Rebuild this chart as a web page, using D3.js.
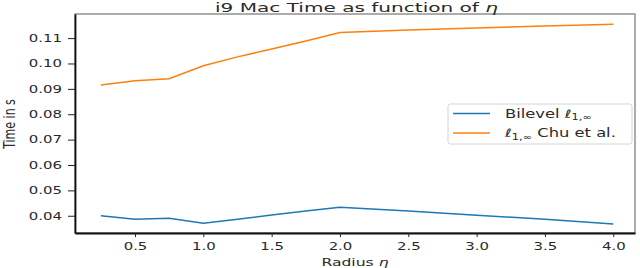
<!DOCTYPE html>
<html><head><meta charset="utf-8">
<script src="https://cdn.jsdelivr.net/npm/d3@7"></script>
<style>
html,body{margin:0;padding:0;background:#fff;}
svg{display:block;font-family:"DejaVu Sans",sans-serif;}
</style></head>
<body>
<svg id="c" width="640" height="268"></svg>
<script>
const radius = [0.25,0.5,0.75,1.0,1.25,1.5,1.75,2.0,2.5,3.0,3.5,4.0];
const bilevel = [0.0400,0.0386,0.0390,0.0370,0.0386,0.0403,0.0419,0.0433,0.0419,0.0402,0.0386,0.0367];
const chu = [0.0915,0.0932,0.0940,0.0991,0.1026,0.1057,0.1089,0.1122,0.1132,0.1140,0.1148,0.1155];
const xTicks = [0.5,1.0,1.5,2.0,2.5,3.0,3.5,4.0];
const yTicks = [0.04,0.05,0.06,0.07,0.08,0.09,0.10,0.11];
const seriesNames = ["Bilevel", "Chu et al."];
const colors = ["#1f77b4", "#ff7f0e"];

const S = 1.42; // horizontal stretch of the picture
const L = 75, R = 635, T = 14, B = 233;
const svg = d3.select("#c");
const x = d3.scaleLinear().domain([0.061, 4.159]).range([L, R]);
const y = d3.scaleLinear().domain([0.0332, 0.1195]).range([B, T]);

// frame (top/right spines)
svg.append("rect").attr("x", L).attr("y", T).attr("width", R - L).attr("height", B - T)
  .attr("fill", "none").attr("stroke", "#808080").attr("stroke-width", 1.3);

const gy = svg.append("g").attr("transform", `translate(${L},0)`)
  .call(d3.axisLeft(y).tickValues(yTicks).tickFormat(d3.format(".2f")).tickSize(7).tickSizeOuter(0).tickPadding(6));
const gx = svg.append("g").attr("transform", `translate(0,${B})`)
  .call(d3.axisBottom(x).tickValues(xTicks).tickFormat(d3.format(".1f")).tickSize(4).tickSizeOuter(0).tickPadding(5.5));

[gx, gy].forEach(g => {
  g.select(".domain").attr("stroke", "#111").attr("stroke-width", 1.8);
  g.selectAll(".tick line").attr("stroke", "#222").attr("stroke-width", 1);
  g.selectAll(".tick text").attr("fill", "#2a2a2a").attr("font-size", 10.5)
    .attr("font-family", "DejaVu Sans")
    .each(function() {
      const t = d3.select(this);
      const xx = +t.attr("x") || 0;
      t.attr("x", xx / S).attr("transform", `scale(${S},1)`);
    });
});

// lines
const line = d3.line().x((d, i) => x(radius[i])).y(d => y(d));
[bilevel, chu].forEach((data, k) => {
  svg.append("path").datum(data).attr("d", line)
    .attr("fill", "none").attr("stroke", colors[k]).attr("stroke-width", 1.5);
});

// title
svg.append("text").attr("x", 356.5).attr("y", 11.5).attr("text-anchor", "middle")
  .attr("font-size", 12).attr("fill", "#2a2a2a")
  .attr("textLength", 283).attr("lengthAdjust", "spacingAndGlyphs")
  .html('i9 Mac Time as function of <tspan font-style="italic">η</tspan>');

// x label
svg.append("text").attr("transform", `translate(355,265.5) scale(${S},1)`)
  .attr("text-anchor", "middle").attr("font-size", 11).attr("fill", "#2a2a2a")
  .html('Radius <tspan font-style="italic">η</tspan>');

// y label
svg.append("text").attr("transform", `translate(14.5,124) scale(${S},1) rotate(-90)`)
  .attr("text-anchor", "middle").attr("font-size", 11).attr("fill", "#2a2a2a")
  .text("Time in s");

// legend
const lg = svg.append("g");
lg.append("rect").attr("x", 448).attr("y", 104).attr("width", 184).attr("height", 40)
  .attr("rx", 2.5).attr("fill", "#fff").attr("fill-opacity", 0.8)
  .attr("stroke", "#d4d4d4").attr("stroke-width", 1);
const rowsY = [113.5, 133];
const ell = '<tspan font-style="italic">ℓ</tspan><tspan font-size="8" dy="2.5">1,∞</tspan><tspan dy="-2.5"> </tspan>';
const labels = [seriesNames[0] + ' ' + ell, ell + seriesNames[1]];
rowsY.forEach((ry, k) => {
  lg.append("line").attr("x1", 453).attr("x2", 490).attr("y1", ry).attr("y2", ry)
    .attr("stroke", colors[k]).attr("stroke-width", 1.5);
  lg.append("text").attr("transform", `translate(505,${ry + 4.2}) scale(${S},1)`)
    .attr("font-size", 11.5).attr("fill", "#2a2a2a").html(labels[k]);
});
</script>
</body></html>
